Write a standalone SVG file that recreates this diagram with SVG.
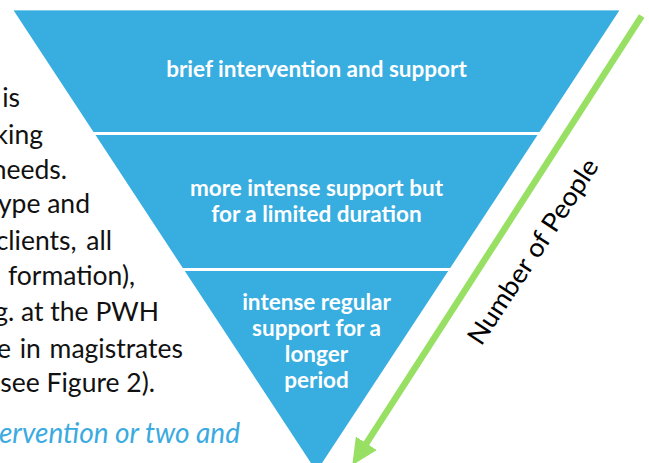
<svg xmlns="http://www.w3.org/2000/svg" width="649" height="463" viewBox="0 0 649 463">
  <defs>
    <style>
      .band { fill: #38ADE0; }
      .lbl { font-family: Lato, "Open Sans", "Liberation Sans", sans-serif; font-weight: bold; font-size: 22.5px; fill: #FFFFFF; text-anchor: middle; }
      .para { font-family: Lato, "Open Sans", "Liberation Sans", sans-serif; font-size: 26.5px; fill: #111111; text-anchor: end; }
      .para-it { font-family: Lato, "Open Sans", "Liberation Sans", sans-serif; font-size: 28px; font-style: italic; fill: #3AAAE0; text-anchor: end; }
      .axis { font-family: Lato, "Open Sans", "Liberation Sans", sans-serif; font-size: 26px; fill: #000000; text-anchor: middle; }
      .arrow { stroke: #98E064; stroke-width: 6.5; fill: none; }
    </style>
    <marker id="head" markerUnits="userSpaceOnUse" markerWidth="30" markerHeight="30" refX="2" refY="12.5" orient="auto">
      <path d="M0,0 L26,12.5 L0,25 Z" fill="#98E064"/>
    </marker>
  </defs>

  <rect width="649" height="463" fill="#FFFFFF"/>

  <!-- surrounding paragraph text (cropped) -->
  <g id="paragraph">
    <text class="para" x="20" y="106.5">is</text>
    <text class="para" x="43" y="144">king</text>
    <text class="para" x="67" y="178.5">needs.</text>
    <text class="para" x="90" y="213">ype and</text>
    <text class="para" x="112" y="249.5" word-spacing="3">clients, all</text>
    <text class="para" x="135" y="285">formation),</text>
    <text class="para" x="159" y="321">g. at the PWH</text>
    <text class="para" x="183" y="357.5" word-spacing="2">e in magistrates</text>
    <text class="para" x="155" y="391.5">see Figure 2).</text>
    <text class="para-it" x="240" y="443">ervention or two and</text>
  </g>

  <!-- pyramid bands -->
  <g id="band-brief">
    <polygon class="band" points="14,11 619,11 539.5,132 93.5,132"/>
    <line x1="14" y1="10.5" x2="619" y2="10.5" stroke="#7FCBEC" stroke-width="1"/>
    <text class="lbl" x="316.5" y="77.3">brief intervention and support</text>
  </g>
  <g id="band-more">
    <polygon class="band" points="95.5,135 537.5,135 450.2,268 182.8,268"/>
    <text class="lbl" x="316.5" y="195.7">more intense support but</text>
    <text class="lbl" x="316.5" y="221.7">for a limited duration</text>
  </g>
  <g id="band-intense">
    <polygon class="band" points="184.8,271 448.2,271 316.5,471.4"/>
    <text class="lbl" x="316.5" y="310">intense regular</text>
    <text class="lbl" x="316.5" y="336.3">support for a</text>
    <text class="lbl" x="316.5" y="362">longer</text>
    <text class="lbl" x="316.5" y="388">period</text>
  </g>

  <!-- connector -->
  <g id="connectors">
    <line class="arrow" x1="641.7" y1="16" x2="365.3" y2="445" marker-end="url(#head)"/>
  </g>
  <g id="axis-label">
    <text class="axis" transform="translate(540.5,256.5) rotate(-56.8)" x="0" y="0" textLength="216" lengthAdjust="spacingAndGlyphs">Number of People</text>
  </g>
</svg>
